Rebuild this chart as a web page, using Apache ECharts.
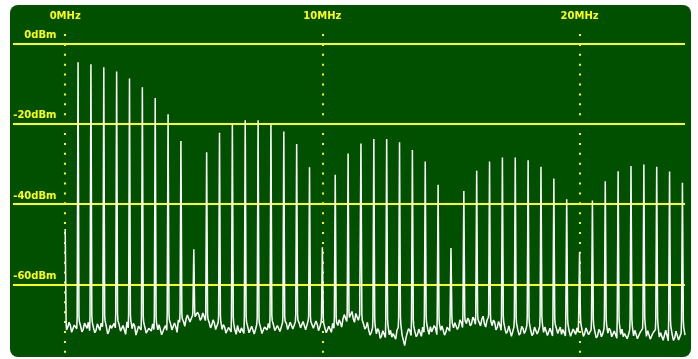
<!DOCTYPE html>
<html>
<head>
<meta charset="utf-8">
<style>
  html, body { margin: 0; padding: 0; background: #ffffff; }
  #chart { width: 698px; height: 359px; }
</style>
<script src="https://cdn.jsdelivr.net/npm/echarts@6/dist/echarts.min.js"></script>
</head>
<body>
<div id="chart"></div>
<script>
// Harmonic peaks (dBm), one every 0.5 MHz starting at 0 MHz
const harmonicStepMHz = 0.5;
const harmonicPeaks = [
  -46.2, -4.7, -5.2, -5.9, -7.0, -8.7, -10.9, -13.6, -17.6, -24.3,
  -51.2, -27.1, -22.2, -19.9, -19.1, -19.1, -20.0, -21.9, -25.0, -30.8,
  -50.7, -32.7, -27.4, -24.9, -23.8, -23.8, -24.6, -26.5, -29.4, -35.2,
  -50.9, -36.7, -31.7, -29.4, -28.4, -28.4, -29.1, -30.7, -33.6, -38.8,
  -52.0, -39.1, -34.3, -31.8, -30.5, -30.1, -30.7, -31.9, -34.7
];

// Noise floor (dBm) sampled every 0.1 MHz from 0 to 24.1 MHz, one row per MHz
const floorStepMHz = 0.1;
const noiseFloor = [
  -69.5, -70.6, -70.2, -71.0, -69.8, -68.0, -70.4, -71.2, -70.0, -69.4,
  -67.6, -70.8, -71.4, -70.2, -69.6, -67.8, -70.5, -71.6, -70.9, -69.7,
  -67.2, -70.1, -71.8, -70.6, -69.3, -67.5, -71.0, -70.3, -71.5, -70.0,
  -67.9, -70.7, -72.0, -70.9, -69.8, -68.2, -71.3, -70.4, -71.7, -70.2,
  -67.4, -69.9, -71.1, -70.5, -68.8, -67.0, -69.2, -68.6, -68.0, -68.9,
  -66.8, -68.1, -67.6, -68.4, -67.9, -67.3, -69.5, -70.1, -69.6, -70.8,
  -67.7, -71.2, -70.6, -71.9, -70.4, -68.0, -71.4, -70.2, -72.0, -70.9,
  -67.9, -70.6, -71.7, -70.3, -71.2, -68.3, -70.8, -71.9, -70.5, -69.7,
  -67.6, -70.1, -71.3, -69.8, -70.6, -67.8, -69.7, -70.9, -69.5, -70.2,
  -67.5, -69.6, -70.4, -69.2, -70.1, -67.9, -69.3, -70.8, -69.9, -70.6,
  -68.2, -70.9, -71.6, -70.3, -69.7, -68.0, -70.2, -69.5, -68.6, -67.9,
  -66.9, -67.8, -68.5, -67.2, -68.9, -67.4, -69.8, -70.6, -71.3, -72.0,
  -68.4, -72.3, -71.6, -72.8, -71.9, -68.6, -72.5, -73.1, -72.2, -71.4,
  -68.1, -72.6, -75.2, -72.0, -71.5, -68.7, -71.8, -72.4, -71.1, -70.6,
  -67.9, -71.2, -70.5, -71.7, -70.9, -68.3, -71.4, -70.7, -71.9, -70.3,
  -68.0, -70.8, -69.9, -70.5, -69.4, -67.6, -69.7, -68.9, -69.8, -68.7,
  -67.3, -69.1, -68.6, -69.8, -68.9, -67.5, -70.2, -69.4, -70.7, -70.1,
  -67.8, -71.0, -71.6, -70.4, -71.8, -68.2, -71.3, -72.1, -70.9, -71.5,
  -68.1, -71.4, -72.2, -70.8, -71.6, -67.9, -71.9, -71.0, -72.3, -71.2,
  -68.3, -70.9, -71.8, -72.4, -71.1, -68.4, -71.7, -72.5, -71.3, -70.8,
  -68.0, -71.5, -72.2, -71.0, -72.6, -68.6, -71.9, -72.8, -71.7, -72.3,
  -68.5, -72.1, -71.4, -72.9, -71.8, -68.3, -72.4, -73.0, -71.9, -72.6,
  -68.7, -72.8, -71.6, -73.2, -72.3, -68.2, -72.9, -71.8, -73.4, -72.5,
  -68.4, -73.1, -72.2, -73.6, -72.7, -68.8, -72.4, -73.3, -72.0, -73.5,
  -68.9, -72.6
];

// Noise floor readings halfway between the samples above (0.05, 0.15, ... MHz)
const noiseFloorMid = [
  -71.3, -69.4, -71.9, -70.1, -71.0, -69.2, -71.8, -69.6, -70.9, -71.5,
  -69.3, -72.0, -69.8, -71.4, -70.5, -69.0, -72.3, -70.1, -71.2, -70.8,
  -69.0, -71.6, -70.2, -72.4, -70.8, -68.9, -69.7, -72.6, -70.4, -71.3,
  -69.4, -72.1, -70.9, -71.6, -71.2, -69.5, -70.0, -72.5, -70.8, -71.4,
  -68.8, -71.3, -69.6, -71.9, -69.4, -68.5, -70.4, -67.6, -69.3, -67.7,
  -68.0, -66.9, -68.9, -67.1, -69.0, -68.6, -70.8, -68.8, -71.2, -69.4,
  -69.2, -70.0, -72.1, -70.7, -71.8, -69.6, -72.4, -71.5, -70.8, -72.2,
  -69.3, -72.0, -70.4, -72.3, -69.9, -69.6, -72.2, -70.6, -71.3, -70.9,
  -69.0, -71.5, -70.2, -71.7, -69.5, -69.1, -71.2, -69.4, -71.1, -69.3,
  -68.9, -70.8, -69.2, -71.3, -68.9, -69.2, -70.9, -69.1, -71.5, -69.4,
  -69.6, -72.0, -70.4, -71.9, -70.9, -69.4, -68.8, -70.6, -67.5, -69.2,
  -68.2, -66.7, -69.4, -68.1, -67.6, -68.9, -71.1, -69.4, -72.6, -70.8,
  -70.2, -71.0, -73.4, -71.5, -73.2, -70.1, -71.4, -72.2, -73.6, -70.7,
  -69.9, -73.9, -73.3, -71.0, -72.7, -70.3, -73.0, -71.1, -72.9, -71.9,
  -69.5, -72.4, -71.8, -70.2, -72.5, -69.8, -70.3, -72.6, -70.6, -71.6,
  -69.6, -69.5, -71.2, -68.8, -70.7, -69.0, -68.4, -70.3, -68.1, -69.9,
  -68.7, -70.3, -67.9, -70.6, -68.2, -69.1, -68.9, -71.3, -69.2, -71.4,
  -69.4, -72.2, -70.3, -72.9, -70.5, -69.7, -72.6, -70.4, -72.2, -70.2,
  -69.6, -72.7, -70.6, -72.3, -70.4, -69.5, -70.6, -72.7, -70.9, -72.8,
  -69.8, -72.2, -70.6, -71.2, -72.8, -69.9, -72.9, -71.1, -72.4, -71.9,
  -69.7, -72.9, -70.8, -72.5, -71.3, -70.2, -73.3, -71.2, -73.0, -71.0,
  -70.0, -70.9, -73.0, -71.6, -73.4, -69.8, -71.1, -72.2, -73.5, -71.3,
  -70.3, -71.4, -73.5, -72.0, -71.0, -69.7, -71.5, -73.6, -72.1, -71.2,
  -70.1, -72.0, -73.9, -71.4, -74.0, -70.4, -73.9, -71.6, -73.8, -72.1,
  -70.6
];

// Reference levels and frequency markers
const levelTicks = [0, -20, -40, -60];
const levelLabels = ['0dBm', '-20dBm', '-40dBm', '-60dBm'];
const freqTicks = [0, 10, 20];
const freqLabels = ['0MHz', '10MHz', '20MHz'];

// Assemble the analyser trace: noise floor with a narrow spike at each harmonic
const spikeHalfWidth = 0.035;
const samplesPerHarmonic = Math.round(harmonicStepMHz / floorStepMHz);
const trace = [];
noiseFloor.forEach((level, i) => {
  const f = +(i * floorStepMHz).toFixed(2);
  if (i % samplesPerHarmonic === 0) {
    const k = i / samplesPerHarmonic;
    if (k > 0) trace.push([f - spikeHalfWidth, level]);
    trace.push([f, harmonicPeaks[k]]);
    trace.push([f + spikeHalfWidth, level]);
  } else {
    trace.push([f, level]);
  }
  if (i < noiseFloorMid.length) {
    trace.push([+(f + floorStepMHz / 2).toFixed(3), noiseFloorMid[i]]);
  }
});

const yellow = '#ffff00';
const textStyle = {
  color: yellow,
  fontFamily: 'DejaVu Sans',
  fontWeight: 'bold',
  fontSize: 10
};

const chart = echarts.init(document.getElementById('chart'), null, { renderer: 'canvas' });
chart.setOption({
  animation: false,
  backgroundColor: '#ffffff',
  graphic: [{
    type: 'rect',
    z: -10,
    silent: true,
    shape: { x: 10, y: 5, width: 681, height: 352, r: 8 },
    style: { fill: '#005000' }
  }],
  grid: { left: 13, right: 13, top: 27.4, bottom: 6.2, containLabel: false },
  xAxis: {
    type: 'value',
    min: -2.03,
    max: 24.1,
    show: false,
    splitLine: { show: false }
  },
  yAxis: {
    type: 'value',
    min: -77,
    max: 4,
    show: false,
    splitLine: { show: false }
  },
  series: [
    {
      type: 'line',
      name: 'levels',
      data: [],
      silent: true,
      markLine: {
        silent: true,
        symbol: ['none', 'none'],
        animation: false,
        lineStyle: { color: yellow, width: 2, type: 'solid' },
        label: {
          show: true,
          position: 'insideStartTop',
          align: 'right',
          distance: [43.5, 3],
          ...textStyle
        },
        data: levelTicks.map((v, i) => ({
          yAxis: v,
          label: { formatter: levelLabels[i] }
        }))
      }
    },
    {
      type: 'line',
      name: 'markers',
      data: [],
      silent: true,
      markLine: {
        silent: true,
        symbol: ['none', 'none'],
        animation: false,
        lineStyle: { color: yellow, width: 2, type: [2, 7.9], cap: 'butt' },
        label: {
          show: true,
          position: 'end',
          distance: 6,
          ...textStyle
        },
        data: freqTicks.map((v, i) => ({
          xAxis: v,
          label: { formatter: freqLabels[i] }
        }))
      }
    },
    {
      type: 'line',
      name: 'spectrum',
      data: trace,
      showSymbol: false,
      symbol: 'none',
      smooth: false,
      clip: false,
      lineStyle: { color: '#ffffff', width: 1.5 },
      z: 5
    }
  ]
});
</script>
</body>
</html>
